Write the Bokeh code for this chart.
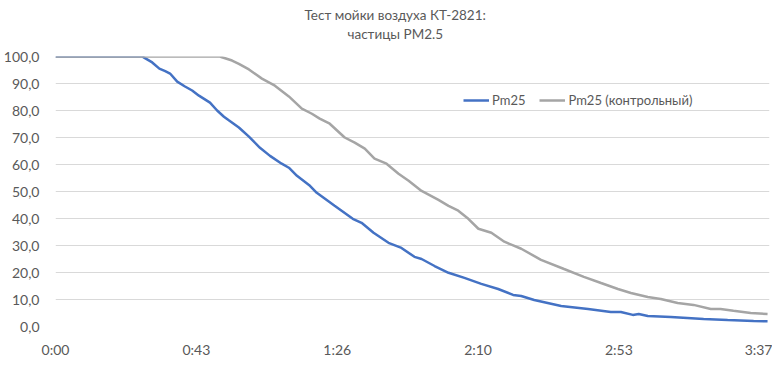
from bokeh.plotting import figure
from bokeh.models import FixedTicker, Legend, LegendItem, Range1d, Title
from bokeh.embed import file_html
from bokeh.resources import INLINE

# time in minutes, PM2.5 in % of start value
t_pm25 = [0, 26.7, 27.3, 29.8, 32.0, 33.8, 35.3, 37.5, 39.9, 42.1, 44.2, 47.6, 49.8, 51.9,
          53.5, 56.5, 59.6, 63.0, 66.1, 69.7, 71.9, 74.4, 78.4, 80.5, 86.0, 91.6, 94.3,
          98.0, 102.6, 106.6, 110.6, 112.8, 116.8, 121.1, 126.0, 131.2, 136.4, 141.0,
          143.5, 147.5, 155.8, 164.1, 171.1, 174.2, 177.9, 179.7, 182.5, 189.6, 199.7,
          207.1, 215.1, 219.4]
pm25 = [100, 100, 99.6, 97.8, 95.5, 94.6, 93.7, 90.7, 88.9, 87.4, 85.5, 82.9, 80.0, 77.7,
        76.3, 73.7, 70.3, 66.2, 63.2, 60.3, 58.8, 55.8, 52.1, 49.5, 44.7, 39.9, 38.4,
        34.7, 31.0, 29.1, 25.8, 25.0, 22.4, 19.9, 18.0, 15.8, 13.9, 11.7,
        11.3, 9.8, 7.6, 6.5, 5.4, 5.4, 4.3, 4.6, 3.9, 3.5, 2.8,
        2.4, 2.0, 1.9]

t_ctrl = [0, 50.7, 51.3, 54.4, 56.5, 59.6, 63.6, 67.6, 71.9, 75.9, 79.0, 81.4, 84.5, 89.1,
          92.2, 95.3, 98.3, 102.0, 105.7, 108.8, 112.8, 118.0, 121.1, 124.1, 127.2, 130.3,
          134.3, 138.3, 143.5, 149.6, 156.7, 162.8, 168.1, 173.3, 177.3, 182.5, 186.5,
          191.7, 196.6, 201.9, 204.9, 208.9, 214.2, 219.4]
pm25_ctrl = [100, 100, 99.7, 98.5, 97.3, 95.2, 91.8, 89.2, 85.2, 80.7, 78.8, 77.0, 75.1, 70.0,
             68.1, 65.9, 62.2, 60.3, 56.6, 54.0, 50.2, 46.9, 44.7, 42.9, 39.9, 36.2,
             34.7, 31.4, 28.8, 24.7, 21.3, 18.4, 16.1, 13.9, 12.4, 10.9, 10.2,
             8.7, 8.0, 6.5, 6.5, 5.8, 5.0, 4.6]

x_ticks = [0, 43.4, 86.8, 130.2, 173.6, 217.0]
x_labels = ["0:00", "0:43", "1:26", "2:10", "2:53", "3:37"]
y_ticks = [0, 10, 20, 30, 40, 50, 60, 70, 80, 90, 100]
y_labels = ["0,0", "10,0", "20,0", "30,0", "40,0", "50,0", "60,0", "70,0", "80,0", "90,0", "100,0"]

title_lines = ["Тест мойки воздуха КТ-2821:", "частицы PM2.5"]
series_names = ["Pm25", "Pm25 (контрольный)"]
colors = ["#4472C4", "#A5A5A5"]

FONT = "Lato"
TXT = "#595959"

p = figure(width=772, height=376, output_backend="svg", toolbar_location=None,
           x_range=Range1d(0, 220), y_range=Range1d(0, 100),
           min_border_left=53, min_border_right=3, min_border_top=56, min_border_bottom=50)
p.outline_line_color = None
p.background_fill_color = "white"

# panels above the frame, innermost first: spacer, second title line, first title line
p.add_layout(Title(text=" ", text_font=FONT, text_font_size="11px", standoff=0), "above")
p.add_layout(Title(text=title_lines[1], align="left", offset=292, vertical_align="bottom",
                   standoff=0, text_font=FONT, text_font_size="13.5px",
                   text_font_style="normal", text_color=TXT), "above")
p.add_layout(Title(text=title_lines[0], align="left", offset=249, vertical_align="bottom",
                   standoff=2, text_font=FONT, text_font_size="13.5px",
                   text_font_style="normal", text_color=TXT), "above")

r1 = p.line(t_pm25, pm25, line_color=colors[0], line_width=2.5)
r2 = p.line(t_ctrl, pm25_ctrl, line_color=colors[1], line_width=2.5)

p.xgrid.visible = False
p.ygrid.grid_line_color = "#D9D9D9"
p.ygrid.grid_line_width = 1
p.ygrid.ticker = FixedTicker(ticks=y_ticks)

p.xaxis.ticker = FixedTicker(ticks=x_ticks)
p.xaxis.major_label_overrides = {t: l for t, l in zip(x_ticks, x_labels)}
p.yaxis.ticker = FixedTicker(ticks=y_ticks)
p.yaxis.major_label_overrides = {t: l for t, l in zip(y_ticks, y_labels)}
for ax in (p.xaxis, p.yaxis):
    ax.axis_line_color = None
    ax.major_tick_line_color = None
    ax.minor_tick_line_color = None
    ax.major_label_text_font = FONT
    ax.major_label_text_font_size = "14px"
    ax.major_label_text_color = TXT
p.xaxis.major_label_standoff = 8
p.yaxis.major_label_standoff = 10

legend = Legend(items=[LegendItem(label=series_names[0], renderers=[r1]),
                       LegendItem(label=series_names[1], renderers=[r2])],
                orientation="horizontal", location=(408, 218),
                border_line_color=None, background_fill_alpha=0,
                label_text_font=FONT, label_text_font_size="13px", label_text_color=TXT,
                glyph_width=26, glyph_height=16, label_standoff=3, spacing=14,
                padding=0, margin=0)
p.add_layout(legend)

open("out.html", "w").write(file_html(p, INLINE))
